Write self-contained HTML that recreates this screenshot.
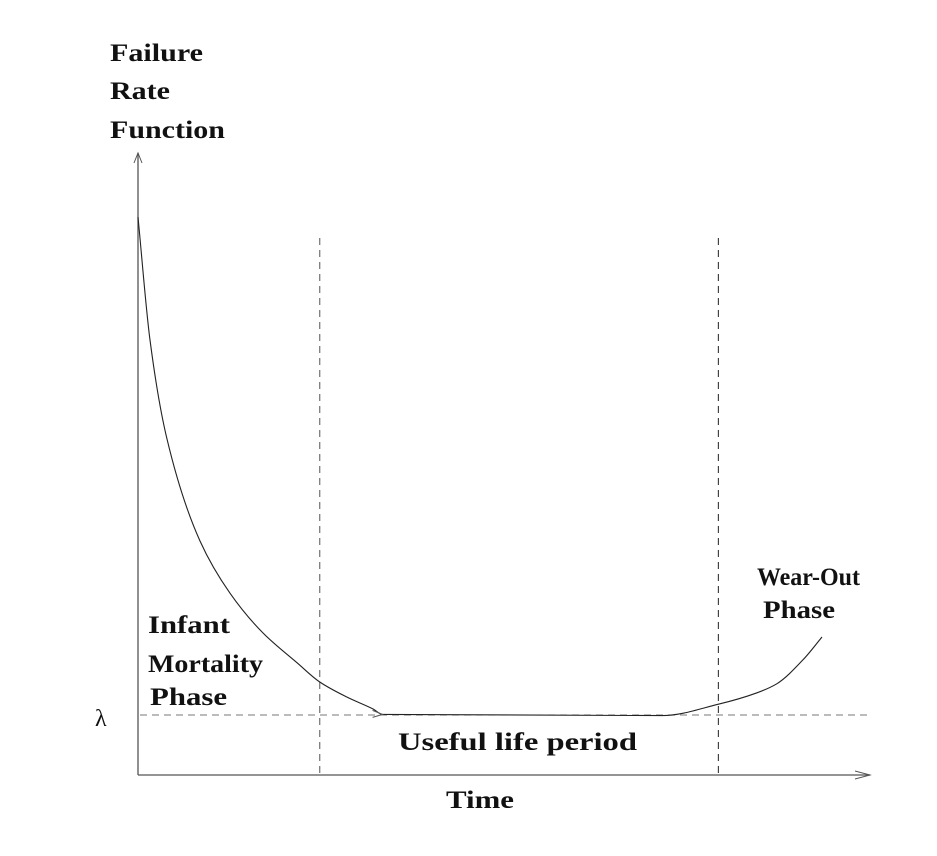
<!DOCTYPE html>
<html><head><meta charset="utf-8"><style>
body{margin:0;background:#fff}
svg text{font-family:"Liberation Serif",serif;font-weight:bold;fill:#111;font-size:25px}
</style></head><body>
<svg width="937" height="851" xmlns="http://www.w3.org/2000/svg">
<g id="g"></g>
<text x="110" y="61" textLength="93" lengthAdjust="spacingAndGlyphs">Failure</text>
<text x="110" y="99" textLength="60" lengthAdjust="spacingAndGlyphs">Rate</text>
<text x="110" y="138" textLength="115" lengthAdjust="spacingAndGlyphs">Function</text>
<text x="148" y="633" textLength="82" lengthAdjust="spacingAndGlyphs">Infant</text>
<text x="148" y="672" textLength="115" lengthAdjust="spacingAndGlyphs">Mortality</text>
<text x="150" y="705" textLength="77" lengthAdjust="spacingAndGlyphs">Phase</text>
<text x="95" y="726" style="font-weight:normal;font-size:24px">λ</text>
<text x="398" y="750" textLength="239" lengthAdjust="spacingAndGlyphs">Useful  life  period</text>
<text x="446" y="808" textLength="68" lengthAdjust="spacingAndGlyphs">Time</text>
<text x="757" y="585" textLength="103" lengthAdjust="spacingAndGlyphs">Wear-Out</text>
<text x="763" y="618" textLength="72" lengthAdjust="spacingAndGlyphs">Phase</text>
</svg>
<script>
const times=[0,1.64,3.97,8.49,12.6,17.1,21.8,24.9,28.6,32.2,33.5,71.8,79.5,84.8,87.5,91.1,93.7];
const rates=[9.3,7.25,5.6,3.9,3.03,2.37,1.87,1.55,1.3,1.1,1.01,0.99,1.18,1.37,1.52,1.92,2.3];
const lambdaValue=1;
const phaseBoundaries=[24.9,79.5];
const X=t=>138+t*7.3, Y=r=>775-r*60;
const NS='http://www.w3.org/2000/svg', g=document.getElementById('g');
function mk(tag,attrs){const e=document.createElementNS(NS,tag);for(const k in attrs)e.setAttribute(k,attrs[k]);g.appendChild(e);return e;}
let e;
e=mk('line',{x1:138,y1:775,x2:138,y2:153,stroke:'#555','stroke-width':1.3});


e=mk('path',{d:'M134,163 L138,153 L142,163',fill:'none',stroke:'#555'});


e=mk('line',{x1:138,y1:775,x2:870,y2:775,stroke:'#555','stroke-width':1.3});


e=mk('path',{d:'M855,771 L870,775 L855,779',fill:'none',stroke:'#555'});


e=mk('line',{x1:140,y1:Y(lambdaValue),x2:868,y2:Y(lambdaValue),stroke:'#777','stroke-dasharray':'7,5'});


phaseBoundaries.forEach((b,i)=>{
  e=mk('line',{x1:X(b),y1:238,x2:X(b),y2:775,stroke:i?'#222':'#555','stroke-dasharray':'7,5'});
  
  
});
// monotone cubic interpolation (Fritsch-Carlson)
const P=times.map((t,i)=>[X(t),Y(rates[i])]);
const n=P.length, dx=[], sl=[], m=[];
for(let i=0;i<n-1;i++){dx[i]=P[i+1][0]-P[i][0];sl[i]=(P[i+1][1]-P[i][1])/dx[i];}
m[0]=sl[0];m[n-1]=sl[n-2];
for(let i=1;i<n-1;i++){m[i]=(sl[i-1]*sl[i]<=0)?0:(3*(dx[i-1]+dx[i]))/((2*dx[i]+dx[i-1])/sl[i-1]+(dx[i]+2*dx[i-1])/sl[i]);}
let d='M'+P[0][0]+','+P[0][1];
for(let i=0;i<n-1;i++){
  const h=dx[i]/3;
  d+=`C${(P[i][0]+h).toFixed(1)},${(P[i][1]+m[i]*h).toFixed(1)} ${(P[i+1][0]-h).toFixed(1)},${(P[i+1][1]-m[i+1]*h).toFixed(1)} ${P[i+1][0].toFixed(1)},${P[i+1][1].toFixed(1)}`;
}
e=mk('path',{d:d,fill:'none',stroke:'#222','stroke-width':1.1,'stroke-linejoin':'round'});


const ax=X(times[10]),ay=Y(rates[10]);
e=mk('path',{d:`M${ax-10},${ay-4} L${ax},${ay} L${ax-10},${ay+3}`,fill:'none',stroke:'#555'});


</script>
</body></html>
